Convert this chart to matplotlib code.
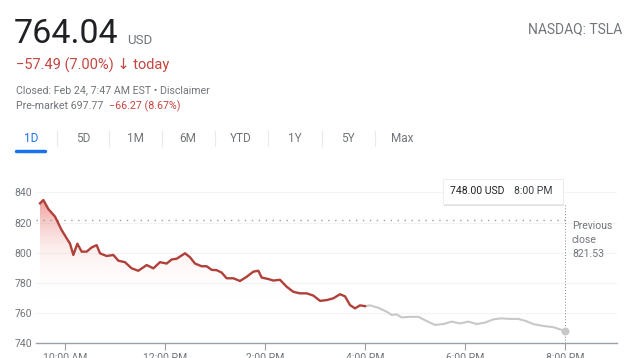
import matplotlib.pyplot as plt
import numpy as np
from matplotlib.patches import Polygon, FancyBboxPatch
from matplotlib.colors import LinearSegmentedColormap

plt.rcParams['font.family'] = ['Roboto', 'DejaVu Sans']

# regular session (hours, decimal) and price
day_hours = [9.50, 9.567, 9.667, 9.80, 9.933, 10.033, 10.10, 10.167, 10.247, 10.333,
             10.433, 10.533, 10.633, 10.70, 10.833, 10.967, 11.067, 11.20, 11.333, 11.467,
             11.633, 11.767, 11.90, 12.033, 12.133, 12.233, 12.40, 12.50, 12.60, 12.733,
             12.833, 12.933, 13.033, 13.133, 13.233, 13.367, 13.50, 13.633, 13.767, 13.867,
             13.933, 14.067, 14.167, 14.30, 14.433, 14.567, 14.70, 14.833, 14.967, 15.10,
             15.233, 15.367, 15.50, 15.60, 15.70, 15.80, 15.90, 16.0]
day_price = [832.8, 835.0, 829.0, 824.0, 815.0, 809.6, 806.0, 798.5, 806.0, 800.7,
             800.7, 803.5, 805.0, 799.6, 797.8, 798.5, 794.7, 793.7, 789.6, 788.0,
             791.8, 789.6, 793.7, 792.8, 795.5, 796.0, 799.6, 797.0, 792.8, 791.0,
             791.0, 788.6, 788.4, 786.8, 783.0, 783.0, 781.2, 784.0, 787.4, 788.0,
             783.5, 782.5, 781.5, 782.0, 777.4, 774.0, 773.0, 773.0, 771.5, 768.0,
             768.5, 769.7, 772.4, 771.0, 765.2, 763.0, 765.0, 764.5]

# after hours
ah_hours = [16.0, 16.10, 16.267, 16.433, 16.533, 16.633, 16.733, 16.90, 17.067, 17.233,
            17.40, 17.567, 17.733, 17.90, 18.067, 18.233, 18.40, 18.567, 18.733, 18.90,
            19.067, 19.20, 19.367, 19.567, 19.767, 20.0]
ah_price = [764.5, 765.0, 763.4, 760.8, 758.6, 759.0, 757.0, 757.4, 757.4, 754.6,
            752.0, 752.6, 754.2, 753.0, 754.2, 752.6, 753.6, 755.7, 756.4, 756.0,
            756.0, 754.8, 752.6, 751.3, 750.5, 748.0]

prev_close = 821.53
y_ticks = [740, 760, 780, 800, 820, 840]
x_ticks = [10, 12, 14, 16, 18, 20]
x_labels = ['10:00 AM', '12:00 PM', '2:00 PM', '4:00 PM', '6:00 PM', '8:00 PM']
tabs = ['1D', '5D', '1M', '6M', 'YTD', '1Y', '5Y', 'Max']

W, H = 636, 358
RED = '#c5453f'
GRAY = '#70757a'
DARK = '#202124'

fig = plt.figure(figsize=(W / 100, H / 100), dpi=100)
fig.patch.set_facecolor('white')

def fx(px):
    return px / W

def fy(py):
    return 1 - py / H

# header
fig.text(fx(14), fy(34), '764.04', fontsize=24.5, color=DARK, va='center', ha='left')
fig.text(fx(127), fy(40), 'USD', fontsize=9.5, color=GRAY, va='center', ha='left')
fig.text(fx(16), fy(65), '\u221257.49 (7.00%) \u2193 today', fontsize=10.5, color=RED,
         va='center', ha='left')
fig.text(fx(16), fy(90), 'Closed: Feb 24, 7:47 AM EST \u2022 Disclaimer', fontsize=7.7,
         color=GRAY, va='center', ha='left')
fig.text(fx(16), fy(106), 'Pre-market 697.77', fontsize=7.7, color=GRAY, va='center', ha='left')
fig.text(fx(109), fy(106), '\u221266.27 (8.67%)', fontsize=7.7, color=RED, va='center', ha='left')
fig.text(fx(622), fy(29), 'NASDAQ: TSLA', fontsize=10, color=GRAY, va='center', ha='right')

tab_x = [31, 83, 135, 188, 241, 295, 348, 402]
for i, (t, x) in enumerate(zip(tabs, tab_x)):
    fig.text(fx(x), fy(138), t, fontsize=8.5, color='#1a73e8' if i == 0 else GRAY,
             va='center', ha='center')
    if i < len(tabs) - 1:
        sx = (x + tab_x[i + 1]) / 2
        fig.add_artist(plt.Line2D([fx(sx), fx(sx)], [fy(131), fy(146)], color='#e8eaed', lw=0.8))
fig.add_artist(plt.Line2D([fx(16), fx(45)], [fy(151), fy(151)], color='#1a73e8', lw=2.5,
                          solid_capstyle='round'))

# chart axes
left, right, top, bottom = 36, 617, 180, 343
ax = fig.add_axes([fx(left), fy(bottom), fx(right - left), (bottom - top) / H])
px_per_unit = (343 - 192.5) / 100
ax.set_ylim(740, 740 + (bottom - top) / px_per_unit)
ax.set_xlim(9.5 - 4 / 50, 9.5 + (right - 40) / 50)

for s in ['top', 'right', 'left']:
    ax.spines[s].set_visible(False)
ax.spines['bottom'].set_color('#9aa0a6')
ax.spines['bottom'].set_linewidth(1)

ax.set_yticks(y_ticks)
ax.set_yticklabels([str(v) for v in y_ticks])
ax.tick_params(axis='y', length=0, labelsize=7.5, labelcolor=GRAY, pad=1)
ax.set_xticks(x_ticks)
ax.set_xticklabels(x_labels)
ax.tick_params(axis='x', length=5, color='#9aa0a6', labelsize=7.5, labelcolor=GRAY, pad=2)
for lab in ax.get_yticklabels():
    lab.set_horizontalalignment('left')
    lab.set_x(-20 / (right - left))
for v in y_ticks[1:]:
    ax.axhline(v, color='#f1f3f4', lw=0.8, zorder=0)

# gradient fill under the regular session
grad = np.linspace(0, 1, 256).reshape(-1, 1)
fade = LinearSegmentedColormap.from_list(
    'fade', [(1, 1, 1, 0), (0.96, 0.72, 0.70, 0.22), (0.90, 0.40, 0.38, 0.65)])
img = ax.imshow(grad, extent=[9.5, 16.0, 768, 836], origin='lower', aspect='auto',
                cmap=fade, zorder=1)
poly = Polygon(list(zip(day_hours, day_price)) + [(16.0, 740), (9.5, 740)],
               closed=True, transform=ax.transData, facecolor='none', edgecolor='none')
ax.add_patch(poly)
img.set_clip_path(poly)

ax.plot(ah_hours, ah_price, color='#c8c8c8', lw=1.5, zorder=2)
ax.plot(day_hours, day_price, color='#b0403a', lw=1.7, zorder=3)
ax.scatter([ah_hours[-1]], [ah_price[-1]], s=22, color='#c8c8c8', zorder=4)

ax.axhline(prev_close, xmin=0, xmax=(20.0 - ax.get_xlim()[0]) / np.diff(ax.get_xlim())[0],
           color='#9aa0a6', lw=1, ls=(0, (1, 4)), zorder=1)
ax.plot([20.0, 20.0], [740, 740 + (bottom - 205) / px_per_unit], color='#80868b', lw=0.7,
        ls=(0, (1, 2)), zorder=2, clip_on=False)

fig.text(fx(572), fy(226), 'Previous', fontsize=7.5, color=GRAY, va='center', ha='left')
fig.text(fx(572), fy(240), 'close', fontsize=7.5, color=GRAY, va='center', ha='left')
fig.text(fx(572), fy(254), '821.53', fontsize=7.5, color=GRAY, va='center', ha='left')

# tooltip
shadow = FancyBboxPatch((fx(444), fy(206)), fx(120), (206 - 180) / H, boxstyle='square,pad=0',
                        transform=fig.transFigure, facecolor='#e0e0e0', edgecolor='none')
box = FancyBboxPatch((fx(443), fy(204)), fx(120), (204 - 179) / H, boxstyle='square,pad=0',
                     transform=fig.transFigure, facecolor='white', edgecolor='#e8eaed', lw=0.6)
fig.add_artist(shadow)
fig.add_artist(box)
fig.text(fx(450), fy(191), '748.00 USD', fontsize=7.5, color=DARK, va='center', ha='left')
fig.text(fx(514), fy(191), '8:00 PM', fontsize=7.5, color='#3c4043', va='center', ha='left')

plt.savefig('out.png', dpi=100)
